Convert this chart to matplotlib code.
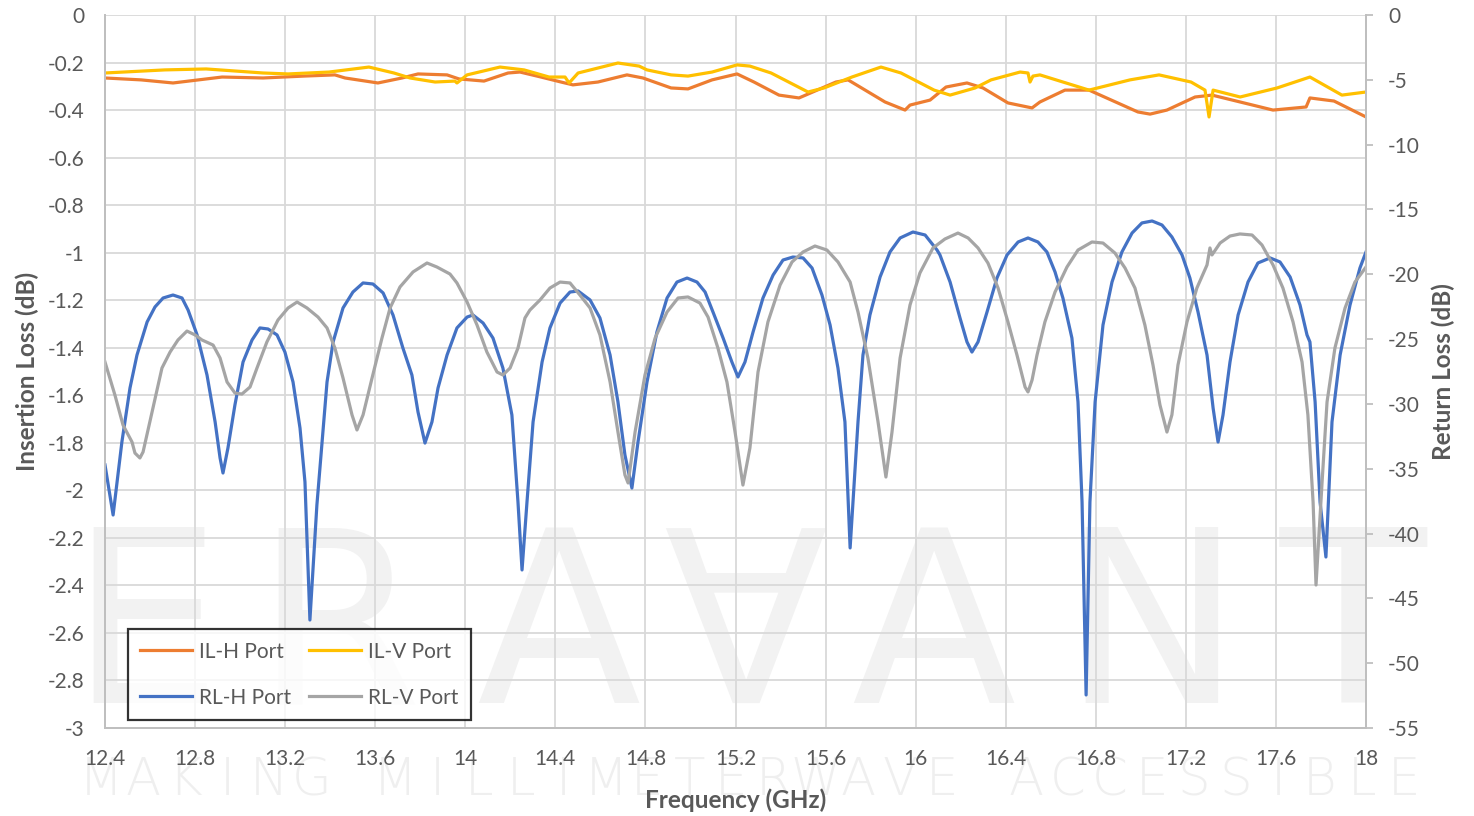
import matplotlib
matplotlib.use("Agg")
import matplotlib.pyplot as plt
from matplotlib.ticker import MultipleLocator, FuncFormatter

plt.rcParams['font.family'] = ['Lato', 'DejaVu Sans']

# insertion loss, H port (GHz, dB)
il_h_freq = [12.400, 12.560, 12.702, 12.920, 13.102, 13.284, 13.421, 13.466, 13.612, 13.719,
             13.790, 13.919, 13.972, 14.083, 14.190, 14.243, 14.336, 14.425, 14.478, 14.589,
             14.718, 14.789, 14.914, 14.989, 15.096, 15.207, 15.282, 15.393, 15.482, 15.646,
             15.700, 15.864, 15.953, 15.975, 16.064, 16.135, 16.228, 16.299, 16.410, 16.517,
             16.552, 16.663, 16.770, 16.987, 17.041, 17.116, 17.241, 17.316, 17.441, 17.587,
             17.734, 17.751, 17.858, 18.000]
il_h_db = [-0.265, -0.273, -0.286, -0.261, -0.265, -0.257, -0.252, -0.265, -0.286, -0.265,
           -0.248, -0.252, -0.269, -0.278, -0.244, -0.240, -0.261, -0.282, -0.294, -0.282,
           -0.252, -0.265, -0.307, -0.311, -0.273, -0.248, -0.282, -0.337, -0.349, -0.282,
           -0.273, -0.366, -0.400, -0.379, -0.358, -0.303, -0.286, -0.307, -0.370, -0.391,
           -0.366, -0.316, -0.316, -0.408, -0.417, -0.400, -0.345, -0.337, -0.366, -0.400,
           -0.387, -0.349, -0.362, -0.429]

# insertion loss, V port
il_v_freq = [12.400, 12.666, 12.849, 13.102, 13.213, 13.395, 13.572, 13.683, 13.755, 13.866,
             13.954, 13.963, 14.008, 14.154, 14.261, 14.372, 14.443, 14.461, 14.501, 14.678,
             14.772, 14.807, 14.914, 14.989, 15.096, 15.207, 15.264, 15.358, 15.522, 15.593,
             15.717, 15.846, 15.935, 16.082, 16.153, 16.264, 16.335, 16.464, 16.499, 16.508,
             16.521, 16.552, 16.770, 16.952, 17.081, 17.223, 17.285, 17.303, 17.321, 17.441,
             17.605, 17.751, 17.893, 18.000]
il_v_db = [-0.244, -0.231, -0.227, -0.244, -0.248, -0.240, -0.219, -0.244, -0.265, -0.282,
           -0.278, -0.286, -0.252, -0.219, -0.231, -0.261, -0.261, -0.286, -0.244, -0.202,
           -0.215, -0.231, -0.252, -0.257, -0.240, -0.210, -0.215, -0.244, -0.324, -0.307,
           -0.261, -0.219, -0.244, -0.316, -0.337, -0.307, -0.273, -0.240, -0.244, -0.282,
           -0.257, -0.252, -0.316, -0.273, -0.252, -0.282, -0.316, -0.429, -0.316, -0.345,
           -0.307, -0.261, -0.337, -0.324]

# return loss, H port
rl_h_freq = [12.400, 12.436, 12.475, 12.511, 12.542, 12.587, 12.622, 12.658, 12.702, 12.742,
             12.769, 12.809, 12.853, 12.889, 12.911, 12.924, 12.946, 12.977, 13.013, 13.053,
             13.088, 13.124, 13.164, 13.199, 13.235, 13.266, 13.288, 13.310, 13.341, 13.386,
             13.413, 13.457, 13.501, 13.546, 13.590, 13.635, 13.679, 13.723, 13.763, 13.790,
             13.821, 13.852, 13.879, 13.919, 13.963, 14.008, 14.034, 14.079, 14.123, 14.167,
             14.207, 14.234, 14.252, 14.274, 14.301, 14.341, 14.376, 14.421, 14.465, 14.501,
             14.554, 14.598, 14.643, 14.678, 14.709, 14.740, 14.767, 14.807, 14.851, 14.896,
             14.940, 14.985, 15.029, 15.065, 15.100, 15.145, 15.184, 15.211, 15.242, 15.278,
             15.322, 15.367, 15.411, 15.455, 15.500, 15.540, 15.584, 15.620, 15.655, 15.686,
             15.709, 15.744, 15.766, 15.797, 15.842, 15.886, 15.931, 15.988, 16.042, 16.095,
             16.108, 16.153, 16.197, 16.228, 16.250, 16.277, 16.317, 16.361, 16.406, 16.455,
             16.499, 16.543, 16.583, 16.619, 16.654, 16.694, 16.721, 16.739, 16.757, 16.774,
             16.797, 16.832, 16.872, 16.916, 16.961, 17.005, 17.050, 17.094, 17.138, 17.183,
             17.218, 17.254, 17.294, 17.321, 17.343, 17.365, 17.396, 17.432, 17.476, 17.520,
             17.574, 17.618, 17.663, 17.707, 17.738, 17.751, 17.774, 17.796, 17.822, 17.849,
             17.885, 17.929, 17.973, 18.000]
rl_h_db = [-34.71, -38.57, -32.94, -28.77, -26.23, -23.68, -22.52, -21.83, -21.60, -21.83,
           -22.76, -24.68, -27.77, -31.39, -34.17, -35.33, -33.40, -30.08, -26.77, -25.07,
           -24.14, -24.22, -24.68, -26.00, -28.31, -31.86, -36.02, -46.67, -37.80, -28.31,
           -25.22, -22.60, -21.37, -20.67, -20.75, -21.44, -23.14, -25.69, -27.77, -30.62,
           -33.02, -31.39, -28.77, -26.23, -24.14, -23.30, -23.14, -23.76, -24.92, -27.23,
           -30.85, -37.57, -42.81, -37.57, -31.39, -26.77, -24.14, -22.22, -21.37, -21.29,
           -21.98, -23.37, -26.23, -29.85, -33.94, -36.49, -32.94, -28.31, -24.45, -21.83,
           -20.60, -20.29, -20.60, -21.37, -22.91, -24.92, -26.77, -27.92, -26.77, -24.45,
           -21.83, -20.06, -18.90, -18.67, -18.74, -19.52, -21.60, -23.91, -27.23, -31.39,
           -41.11, -31.39, -26.23, -23.14, -20.21, -18.28, -17.20, -16.74, -16.97, -18.13,
           -18.51, -20.60, -23.37, -25.22, -26.00, -25.22, -22.91, -20.29, -18.51, -17.51,
           -17.20, -17.51, -18.28, -19.82, -21.83, -24.92, -29.85, -37.57, -52.45, -37.57,
           -29.85, -23.91, -20.60, -18.28, -16.82, -16.04, -15.89, -16.20, -17.12, -18.51,
           -20.29, -22.91, -26.23, -30.32, -32.94, -30.85, -26.77, -23.14, -20.60, -19.13,
           -18.74, -19.05, -20.21, -22.37, -24.68, -25.22, -29.85, -37.57, -41.81, -31.39,
           -26.23, -22.37, -19.52, -18.28]

# return loss, V port
rl_v_freq = [12.400, 12.444, 12.480, 12.520, 12.533, 12.555, 12.569, 12.609, 12.653, 12.689,
             12.724, 12.764, 12.800, 12.831, 12.880, 12.911, 12.942, 12.977, 13.008, 13.044,
             13.075, 13.119, 13.168, 13.213, 13.253, 13.297, 13.346, 13.386, 13.421, 13.457,
             13.497, 13.519, 13.546, 13.586, 13.630, 13.666, 13.710, 13.768, 13.830, 13.874,
             13.932, 13.963, 14.008, 14.052, 14.096, 14.141, 14.167, 14.199, 14.234, 14.265,
             14.287, 14.332, 14.376, 14.421, 14.465, 14.509, 14.554, 14.598, 14.643, 14.678,
             14.709, 14.723, 14.754, 14.798, 14.843, 14.896, 14.945, 14.989, 15.042, 15.078,
             15.122, 15.162, 15.198, 15.233, 15.264, 15.300, 15.344, 15.398, 15.451, 15.500,
             15.553, 15.606, 15.655, 15.709, 15.744, 15.788, 15.833, 15.868, 15.895, 15.931,
             15.975, 16.019, 16.077, 16.130, 16.188, 16.233, 16.277, 16.321, 16.366, 16.410,
             16.450, 16.486, 16.499, 16.517, 16.539, 16.574, 16.619, 16.672, 16.721, 16.783,
             16.832, 16.885, 16.930, 16.974, 17.018, 17.054, 17.085, 17.116, 17.138, 17.165,
             17.205, 17.249, 17.294, 17.307, 17.316, 17.352, 17.396, 17.440, 17.494, 17.538,
             17.587, 17.631, 17.676, 17.716, 17.742, 17.765, 17.778, 17.805, 17.827, 17.862,
             17.907, 17.951, 18.000]
rl_v_db = [-26.77, -29.31, -31.63, -32.94, -33.79, -34.17, -33.71, -30.62, -27.23, -26.00,
           -25.07, -24.38, -24.68, -25.07, -25.46, -26.46, -28.31, -29.16, -29.24, -28.70,
           -27.23, -25.22, -23.53, -22.60, -22.14, -22.60, -23.30, -24.14, -25.69, -28.00,
           -30.85, -32.01, -30.85, -28.00, -24.92, -22.60, -20.98, -19.82, -19.13, -19.44,
           -19.98, -20.67, -22.14, -23.91, -26.00, -27.54, -27.77, -27.23, -25.69, -23.37,
           -22.76, -21.98, -21.06, -20.60, -20.67, -21.60, -22.60, -24.68, -28.31, -32.17,
           -35.48, -36.10, -32.17, -27.77, -24.92, -22.91, -21.83, -21.75, -22.22, -23.30,
           -25.69, -28.31, -32.17, -36.26, -33.40, -27.54, -23.68, -20.83, -19.05, -18.28,
           -17.82, -18.13, -19.05, -20.60, -22.91, -26.46, -31.39, -35.64, -32.17, -26.46,
           -22.37, -19.90, -17.97, -17.28, -16.82, -17.20, -17.97, -19.13, -21.06, -23.68,
           -26.23, -28.70, -29.08, -28.16, -26.23, -23.68, -21.37, -19.44, -18.13, -17.51,
           -17.59, -18.36, -19.52, -21.06, -23.91, -27.00, -30.08, -32.17, -30.85, -27.00,
           -23.68, -21.06, -19.28, -17.97, -18.51, -17.59, -17.05, -16.89, -16.97, -17.74,
           -19.28, -21.06, -23.68, -26.77, -30.85, -37.57, -43.97, -36.02, -29.85, -25.69,
           -22.60, -20.60, -19.44]

x_ticks = [12.4, 12.8, 13.2, 13.6, 14.0, 14.4, 14.8, 15.2, 15.6, 16.0,
           16.4, 16.8, 17.2, 17.6, 18.0]

text_color = "#595959"
grid_color = "#d9d9d9"

fig = plt.figure(figsize=(14.74, 8.16), dpi=100)
ax = fig.add_axes([105 / 1474, 88 / 816, 1261 / 1474, 713 / 816])
ax.patch.set_alpha(0)

# faint company watermark behind the plot
for letter, xc in zip("ERA\u2200ANT", [145, 338, 558, 745, 933, 1151, 1353]):
    fig.text(xc / 1474, 1 - 703 / 816, letter, fontsize=173, color="#f2f2f2",
             ha="center", va="baseline", zorder=-5, family="DejaVu Sans")
tagline = "MAKING MILLIMETERWAVE ACCESSIBLE"
step = 1345 / len(tagline)
for i, ch in enumerate(tagline):
    fig.text((80 + step * (i + 0.5)) / 1474, 1 - 795 / 816, ch, fontsize=37,
             color="#efefef", ha="center", va="baseline", zorder=-5,
             family="DejaVu Sans", fontweight="light")

ax2 = ax.twinx()

ax.plot(il_h_freq, il_h_db, color="#ED7D31", linewidth=2.3, label="IL-H Port")
ax.plot(il_v_freq, il_v_db, color="#FFC000", linewidth=2.3, label="IL-V Port")
ax2.plot(rl_h_freq, rl_h_db, color="#4472C4", linewidth=2.3, label="RL-H Port")
ax2.plot(rl_v_freq, rl_v_db, color="#A5A5A5", linewidth=2.3, label="RL-V Port")

ax.set_xlim(12.4, 18.0)
ax.set_ylim(-3, 0)
ax2.set_ylim(-55, 0)
ax.set_xticks(x_ticks)
ax.yaxis.set_major_locator(MultipleLocator(0.2))
ax2.yaxis.set_major_locator(MultipleLocator(5))
fmt = FuncFormatter(lambda v, p: "{0:g}".format(round(v, 2)))
ax.xaxis.set_major_formatter(fmt)
ax.yaxis.set_major_formatter(fmt)
ax2.yaxis.set_major_formatter(fmt)

ax.grid(True, color=grid_color, linewidth=1.3)
ax.set_axisbelow(True)
ax.spines["top"].set_visible(False)
ax2.spines["top"].set_visible(False)
for a in (ax, ax2):
    for s in ("left", "right", "bottom"):
        a.spines[s].set_color("#bfbfbf")
        a.spines[s].set_linewidth(1.3)

ax.tick_params(axis="both", length=0, labelsize=15, labelcolor=text_color)
ax.tick_params(axis="y", pad=15)
ax.tick_params(axis="x", pad=15)
ax2.tick_params(axis="y", length=5, width=1.3, color="#bfbfbf", labelsize=15,
                labelcolor=text_color, pad=11)

ax.set_xlabel("Frequency (GHz)", fontsize=17.5, fontweight="bold", color=text_color,
              labelpad=14)
ax.set_ylabel("Insertion Loss (dB)", fontsize=17.5, fontweight="bold", color=text_color,
              labelpad=6)
ax2.set_ylabel("Return Loss (dB)", fontsize=17.5, fontweight="bold", color=text_color,
               labelpad=8)

handles = ax.get_legend_handles_labels()[0] + ax2.get_legend_handles_labels()[0]
labels = ax.get_legend_handles_labels()[1] + ax2.get_legend_handles_labels()[1]
# order so that IL entries sit in the top row
order = [0, 2, 1, 3]
legend = ax2.legend([handles[i] for i in order], [labels[i] for i in order],
                    ncol=2, loc="lower left", bbox_to_anchor=(0.018, 0.011),
                    fontsize=15, frameon=True, fancybox=False, edgecolor="black",
                    handlelength=2.5, handletextpad=0.3, columnspacing=0.9,
                    labelspacing=1.25, borderpad=0.6, borderaxespad=0)
legend.get_frame().set_linewidth(1.6)
for t in legend.get_texts():
    t.set_color(text_color)

fig.savefig("out.png", dpi=100)
